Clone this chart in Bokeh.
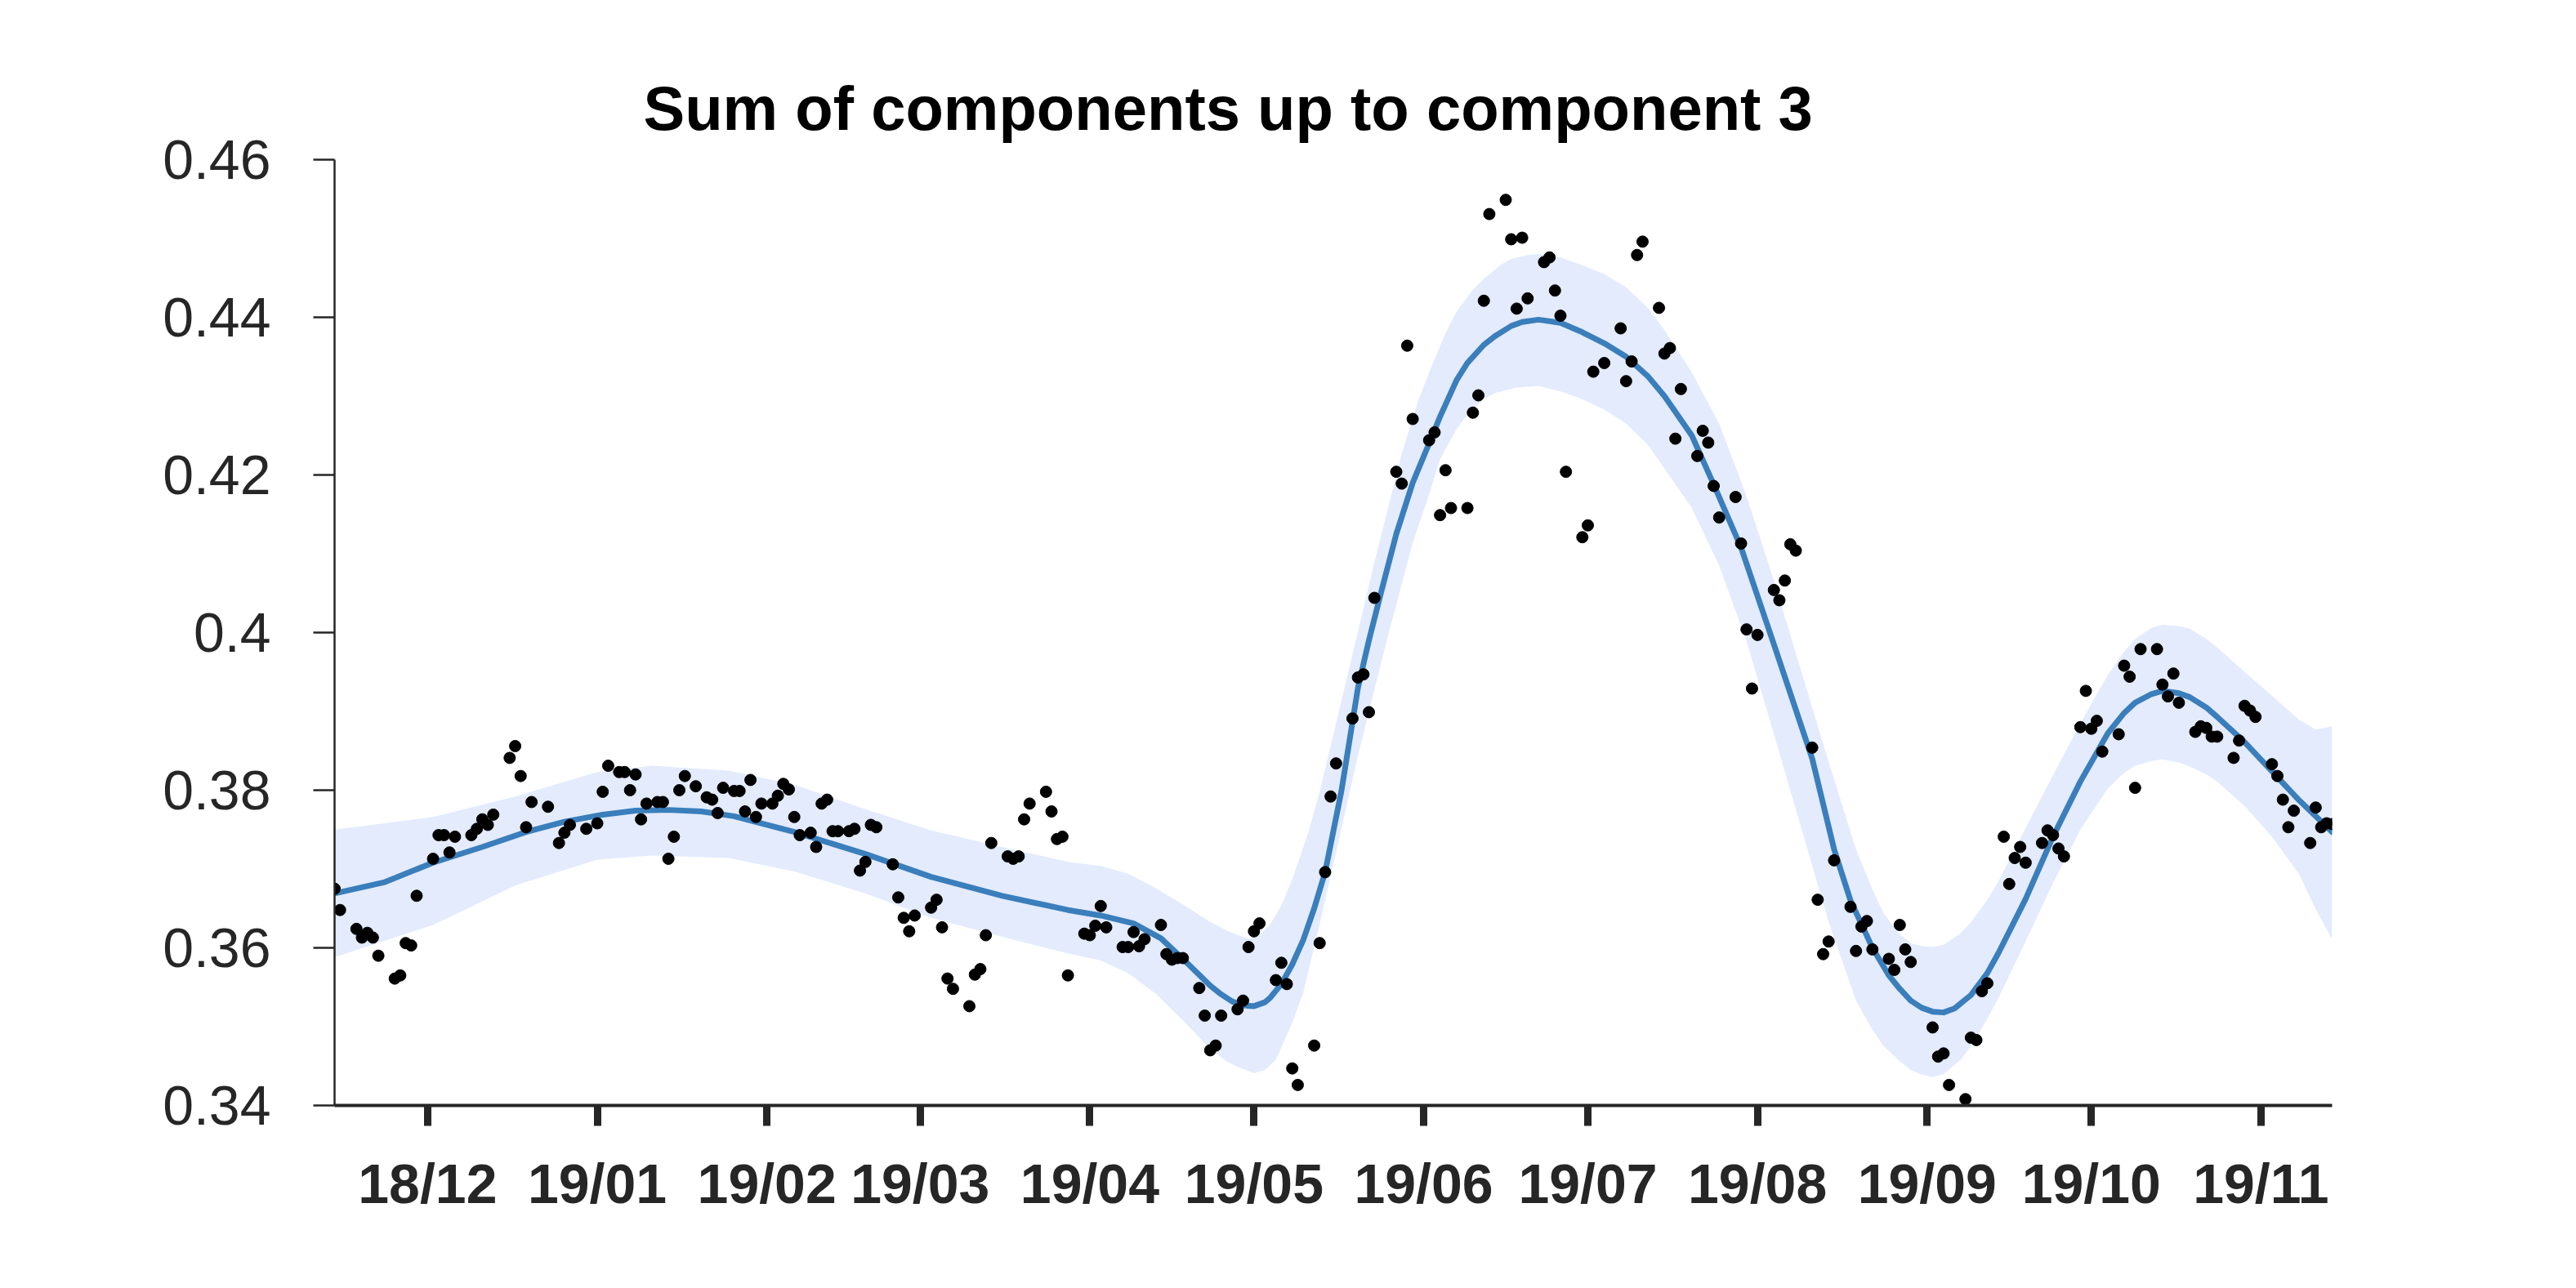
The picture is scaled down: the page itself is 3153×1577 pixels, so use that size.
import pandas as pd
from bokeh.plotting import figure
from bokeh.models import Range1d, FixedTicker
from bokeh.embed import file_html
from bokeh.resources import INLINE

title_text = "Sum of components up to component 3"

# observed points
obs_dates = [
    "2018-11-14", "2018-11-15", "2018-11-18", "2018-11-19", "2018-11-20", "2018-11-21", "2018-11-22",
    "2018-11-25", "2018-11-26", "2018-11-27", "2018-11-28", "2018-11-29",
    "2018-12-02", "2018-12-03", "2018-12-04", "2018-12-05", "2018-12-06",
    "2018-12-09", "2018-12-10", "2018-12-11", "2018-12-12", "2018-12-13",
    "2018-12-16", "2018-12-17", "2018-12-18", "2018-12-19", "2018-12-20",
    "2018-12-23", "2018-12-25", "2018-12-26", "2018-12-27", "2018-12-30",
    "2019-01-01", "2019-01-02", "2019-01-03", "2019-01-05", "2019-01-06", "2019-01-07", "2019-01-08",
    "2019-01-09", "2019-01-10", "2019-01-12", "2019-01-13", "2019-01-14", "2019-01-15", "2019-01-16",
    "2019-01-17", "2019-01-19", "2019-01-21", "2019-01-22", "2019-01-23", "2019-01-24", "2019-01-26",
    "2019-01-27", "2019-01-28", "2019-01-29", "2019-01-30", "2019-01-31",
    "2019-02-02", "2019-02-03", "2019-02-04", "2019-02-05", "2019-02-06", "2019-02-07",
    "2019-02-09", "2019-02-10", "2019-02-11", "2019-02-12", "2019-02-13", "2019-02-14",
    "2019-02-16", "2019-02-17", "2019-02-18", "2019-02-19", "2019-02-20", "2019-02-21",
    "2019-02-24", "2019-02-25", "2019-02-26", "2019-02-27", "2019-02-28",
    "2019-03-03", "2019-03-04", "2019-03-05", "2019-03-06", "2019-03-07",
    "2019-03-10", "2019-03-11", "2019-03-12", "2019-03-13", "2019-03-14",
    "2019-03-17", "2019-03-18", "2019-03-19", "2019-03-20", "2019-03-21",
    "2019-03-24", "2019-03-25", "2019-03-26", "2019-03-27", "2019-03-28",
    "2019-03-31", "2019-04-01", "2019-04-02", "2019-04-03", "2019-04-04",
    "2019-04-07", "2019-04-08", "2019-04-09", "2019-04-10", "2019-04-11",
    "2019-04-14", "2019-04-15", "2019-04-16", "2019-04-17", "2019-04-18",
    "2019-04-21", "2019-04-22", "2019-04-23", "2019-04-24", "2019-04-25",
    "2019-04-28", "2019-04-29", "2019-04-30", "2019-05-01", "2019-05-02",
    "2019-05-05", "2019-05-06", "2019-05-07", "2019-05-08", "2019-05-09",
    "2019-05-12", "2019-05-13", "2019-05-14", "2019-05-15", "2019-05-16",
    "2019-05-19", "2019-05-20", "2019-05-21", "2019-05-22", "2019-05-23",
    "2019-05-27", "2019-05-28", "2019-05-29", "2019-05-30",
    "2019-06-02", "2019-06-03", "2019-06-04", "2019-06-05", "2019-06-06",
    "2019-06-09", "2019-06-10", "2019-06-11", "2019-06-12", "2019-06-13",
    "2019-06-16", "2019-06-17", "2019-06-18", "2019-06-19", "2019-06-20",
    "2019-06-23", "2019-06-24", "2019-06-25", "2019-06-26", "2019-06-27",
    "2019-06-30", "2019-07-01", "2019-07-02", "2019-07-04",
    "2019-07-07", "2019-07-08", "2019-07-09", "2019-07-10", "2019-07-11",
    "2019-07-14", "2019-07-15", "2019-07-16", "2019-07-17", "2019-07-18",
    "2019-07-21", "2019-07-22", "2019-07-23", "2019-07-24", "2019-07-25",
    "2019-07-28", "2019-07-29", "2019-07-30", "2019-07-31", "2019-08-01",
    "2019-08-04", "2019-08-05", "2019-08-06", "2019-08-07", "2019-08-08",
    "2019-08-11", "2019-08-12", "2019-08-13", "2019-08-14", "2019-08-15",
    "2019-08-18", "2019-08-19", "2019-08-20", "2019-08-21", "2019-08-22",
    "2019-08-25", "2019-08-26", "2019-08-27", "2019-08-28", "2019-08-29",
    "2019-09-02", "2019-09-03", "2019-09-04", "2019-09-05",
    "2019-09-08", "2019-09-09", "2019-09-10", "2019-09-11", "2019-09-12",
    "2019-09-15", "2019-09-16", "2019-09-17", "2019-09-18", "2019-09-19",
    "2019-09-22", "2019-09-23", "2019-09-24", "2019-09-25", "2019-09-26",
    "2019-09-29", "2019-09-30", "2019-10-01", "2019-10-02", "2019-10-03",
    "2019-10-06", "2019-10-07", "2019-10-08", "2019-10-09", "2019-10-10",
    "2019-10-13", "2019-10-14", "2019-10-15", "2019-10-16", "2019-10-17",
    "2019-10-20", "2019-10-21", "2019-10-22", "2019-10-23", "2019-10-24",
    "2019-10-27", "2019-10-28", "2019-10-29", "2019-10-30", "2019-10-31",
    "2019-11-03", "2019-11-04", "2019-11-05", "2019-11-06", "2019-11-07",
    "2019-11-10", "2019-11-11", "2019-11-12", "2019-11-13", "2019-11-14",
]
obs_values = [
    0.3675, 0.3648, 0.3624, 0.3613, 0.3619, 0.3613, 0.3590,
    0.3561, 0.3565, 0.3606, 0.3603, 0.3666,
    0.3713, 0.3743, 0.3743, 0.3721, 0.3741,
    0.3743, 0.3751, 0.3763, 0.3756, 0.3769,
    0.3841, 0.3856, 0.3818, 0.3753, 0.3785,
    0.3779, 0.3733, 0.3746, 0.3756, 0.3751,
    0.3758, 0.3798, 0.3831, 0.3823, 0.3823, 0.3800, 0.3820,
    0.3763, 0.3783, 0.3785, 0.3785, 0.3713, 0.3741, 0.3800,
    0.3818, 0.3805, 0.3791, 0.3788, 0.3771, 0.3803, 0.3799,
    0.3799, 0.3773, 0.3813, 0.3766, 0.3783,
    0.3783, 0.3793, 0.3808, 0.3801, 0.3766, 0.3743,
    0.3746, 0.3728, 0.3783, 0.3788, 0.3748, 0.3748,
    0.3748, 0.3751, 0.3698, 0.3709, 0.3756, 0.3753,
    0.3706, 0.3664, 0.3638, 0.3621, 0.3641,
    0.3651, 0.3661, 0.3626, 0.3561, 0.3548,
    0.3526, 0.3566, 0.3573, 0.3616, 0.3733,
    0.3716, 0.3713, 0.3716, 0.3763, 0.3783,
    0.3798, 0.3773, 0.3738, 0.3741, 0.3565,
    0.3618, 0.3616, 0.3628, 0.3653, 0.3626,
    0.3601, 0.3601, 0.3620, 0.3602, 0.3611,
    0.3629, 0.3592, 0.3585, 0.3587, 0.3587,
    0.3549, 0.3514, 0.3470, 0.3476, 0.3514,
    0.3522, 0.3533, 0.3601, 0.3621, 0.3631,
    0.3559, 0.3581, 0.3554, 0.3447, 0.3426,
    0.3476, 0.3606, 0.3696, 0.3792, 0.3834,
    0.3891, 0.3943, 0.3947, 0.3899, 0.4044,
    0.4204, 0.4189, 0.4364, 0.4271,
    0.4244, 0.4254, 0.4149, 0.4206, 0.4158,
    0.4158, 0.4279, 0.4301, 0.4421, 0.4531,
    0.4549, 0.4499, 0.4411, 0.4501, 0.4424,
    0.4470, 0.4476, 0.4434, 0.4402, 0.4204,
    0.4121, 0.4136, 0.4331, 0.4342,
    0.4386, 0.4319, 0.4344, 0.4479, 0.4496,
    0.4412, 0.4354, 0.4361, 0.4246, 0.4309,
    0.4224, 0.4256, 0.4241, 0.4186, 0.4146,
    0.4172, 0.4113, 0.4004, 0.3929, 0.3997,
    0.4054, 0.4041, 0.4066, 0.4112, 0.4104,
    0.3854, 0.3661, 0.3592, 0.3608, 0.3711,
    0.3652, 0.3596, 0.3627, 0.3634, 0.3598,
    0.3586, 0.3572, 0.3629, 0.3598, 0.3582,
    0.3499, 0.3462, 0.3466, 0.3426,
    0.3408, 0.3486, 0.3483, 0.3545, 0.3555,
    0.3741, 0.3681, 0.3714, 0.3728, 0.3708,
    0.3733, 0.3749, 0.3743, 0.3726, 0.3716,
    0.3880, 0.3926, 0.3878, 0.3888, 0.3849,
    0.3871, 0.3958, 0.3944, 0.3803, 0.3979,
    0.3979, 0.3934, 0.3919, 0.3948, 0.3911,
    0.3874, 0.3881, 0.3879, 0.3868, 0.3868,
    0.3841, 0.3863, 0.3907, 0.3901, 0.3893,
    0.3833, 0.3818, 0.3788, 0.3753, 0.3774,
    0.3733, 0.3778, 0.3753, 0.3758, 0.3757,
]

# fitted mean (sum of components up to component 3)
fit_dates = [
    "2018-11-14", "2018-11-23", "2018-12-02", "2018-12-11", "2018-12-19", "2018-12-26",
    "2019-01-02", "2019-01-08", "2019-01-14", "2019-01-20", "2019-01-26", "2019-02-06",
    "2019-02-19", "2019-03-03", "2019-03-16", "2019-03-28", "2019-04-03", "2019-04-09",
    "2019-04-14", "2019-04-18", "2019-04-23", "2019-04-25", "2019-04-27", "2019-04-29",
    "2019-05-01", "2019-05-03", "2019-05-04", "2019-05-06", "2019-05-08", "2019-05-10",
    "2019-05-12", "2019-05-14", "2019-05-17", "2019-05-20", "2019-05-22", "2019-05-24",
    "2019-05-27", "2019-05-30", "2019-06-02", "2019-06-04", "2019-06-07", "2019-06-09",
    "2019-06-12", "2019-06-14", "2019-06-17", "2019-06-19", "2019-06-22", "2019-06-26",
    "2019-06-30", "2019-07-04", "2019-07-08", "2019-07-12", "2019-07-15", "2019-07-20",
    "2019-07-24", "2019-07-29", "2019-08-04", "2019-08-11", "2019-08-15", "2019-08-18",
    "2019-08-22", "2019-08-25", "2019-08-27", "2019-08-29", "2019-08-31", "2019-09-02",
    "2019-09-04", "2019-09-06", "2019-09-09", "2019-09-12", "2019-09-14", "2019-09-19",
    "2019-09-24", "2019-09-29", "2019-10-04", "2019-10-07", "2019-10-09", "2019-10-12",
    "2019-10-14", "2019-10-17", "2019-10-19", "2019-10-22", "2019-10-24", "2019-10-29",
    "2019-11-03", "2019-11-08", "2019-11-14",
]
fit_mean = [
    0.3669, 0.3683, 0.3708, 0.3728, 0.3747, 0.3760,
    0.3769, 0.3774, 0.3775, 0.3773, 0.3767, 0.3747,
    0.3719, 0.3690, 0.3666, 0.3648, 0.3641, 0.3631,
    0.3612, 0.3586, 0.3552, 0.3541, 0.3532, 0.3527,
    0.3526, 0.3531, 0.3537, 0.3554, 0.3579, 0.3610,
    0.3650, 0.3696, 0.3800, 0.3930, 0.3990, 0.4045,
    0.4125, 0.4190, 0.4240, 0.4274, 0.4320, 0.4342,
    0.4365, 0.4376, 0.4389, 0.4394, 0.4397, 0.4393,
    0.4381, 0.4367, 0.4350, 0.4325, 0.4300, 0.4250,
    0.4188, 0.4108, 0.3985, 0.3840, 0.3725, 0.3660,
    0.3600, 0.3565, 0.3548, 0.3533, 0.3524, 0.3519,
    0.3518, 0.3523, 0.3540, 0.3568, 0.3593, 0.3662,
    0.3741, 0.3811, 0.3872, 0.3898, 0.3911, 0.3922,
    0.3926, 0.3923, 0.3918, 0.3905, 0.3893, 0.3861,
    0.3824, 0.3787, 0.3747,
]

# confidence band, upper edge
upper_dates = [
    "2018-11-14", "2018-12-02", "2018-12-17", "2019-01-01", "2019-01-11", "2019-01-25",
    "2019-02-06", "2019-02-19", "2019-03-03", "2019-03-16", "2019-03-28", "2019-04-03",
    "2019-04-08", "2019-04-13", "2019-04-18", "2019-04-23", "2019-04-26", "2019-04-28",
    "2019-04-30", "2019-05-02", "2019-05-04", "2019-05-06", "2019-05-08", "2019-05-11",
    "2019-05-13", "2019-05-16", "2019-05-18", "2019-05-23", "2019-05-28", "2019-05-31",
    "2019-06-02", "2019-06-05", "2019-06-07", "2019-06-10", "2019-06-12", "2019-06-15",
    "2019-06-17", "2019-06-20", "2019-06-22", "2019-06-26", "2019-06-30", "2019-07-04",
    "2019-07-08", "2019-07-12", "2019-07-15", "2019-07-20", "2019-07-25", "2019-07-30",
    "2019-08-04", "2019-08-09", "2019-08-14", "2019-08-19", "2019-08-22", "2019-08-24",
    "2019-08-27", "2019-08-29", "2019-08-31", "2019-09-02", "2019-09-04", "2019-09-07",
    "2019-09-09", "2019-09-12", "2019-09-14", "2019-09-19", "2019-09-24", "2019-09-29",
    "2019-10-04", "2019-10-07", "2019-10-09", "2019-10-12", "2019-10-14", "2019-10-17",
    "2019-10-19", "2019-10-22", "2019-10-24", "2019-10-29", "2019-11-03", "2019-11-08",
    "2019-11-11", "2019-11-14",
]
upper_values = [
    0.3750, 0.3766, 0.3792, 0.3823, 0.3831, 0.3825,
    0.3807, 0.3776, 0.3749, 0.3728, 0.3709, 0.3704,
    0.3694, 0.3676, 0.3655, 0.3633, 0.3622, 0.3616,
    0.3612, 0.3616, 0.3630, 0.3654, 0.3687, 0.3748,
    0.3798, 0.3885, 0.3943, 0.4089, 0.4227, 0.4294,
    0.4330, 0.4380, 0.4407, 0.4435, 0.4449, 0.4466,
    0.4474, 0.4479, 0.4480, 0.4476, 0.4466, 0.4455,
    0.4438, 0.4412, 0.4384, 0.4330, 0.4265, 0.4173,
    0.4066, 0.3951, 0.3836, 0.3725, 0.3674, 0.3644,
    0.3617, 0.3606, 0.3602, 0.3601, 0.3604, 0.3618,
    0.3632, 0.3661, 0.3684, 0.3752, 0.3819, 0.3885,
    0.3946, 0.3976, 0.3992, 0.4006, 0.4010, 0.4008,
    0.4005, 0.3992, 0.3981, 0.3950, 0.3920, 0.3889,
    0.3877, 0.3881,
]

# confidence band, lower edge
lower_dates = [
    "2018-11-14", "2018-12-02", "2018-12-17", "2019-01-01", "2019-01-11", "2019-01-25",
    "2019-02-06", "2019-02-19", "2019-03-03", "2019-03-16", "2019-03-28", "2019-04-03",
    "2019-04-08", "2019-04-13", "2019-04-18", "2019-04-23", "2019-04-26", "2019-04-28",
    "2019-05-01", "2019-05-03", "2019-05-05", "2019-05-08", "2019-05-10", "2019-05-13",
    "2019-05-15", "2019-05-20", "2019-05-25", "2019-05-30", "2019-06-02", "2019-06-04",
    "2019-06-07", "2019-06-09", "2019-06-12", "2019-06-14", "2019-06-18", "2019-06-22",
    "2019-06-26", "2019-06-30", "2019-07-04", "2019-07-08", "2019-07-12", "2019-07-15",
    "2019-07-20", "2019-07-25", "2019-07-30", "2019-08-04", "2019-08-09", "2019-08-14",
    "2019-08-19", "2019-08-22", "2019-08-24", "2019-08-27", "2019-08-29", "2019-08-31",
    "2019-09-02", "2019-09-04", "2019-09-07", "2019-09-09", "2019-09-12", "2019-09-14",
    "2019-09-19", "2019-09-24", "2019-09-29", "2019-10-04", "2019-10-07", "2019-10-09",
    "2019-10-12", "2019-10-14", "2019-10-17", "2019-10-19", "2019-10-22", "2019-10-24",
    "2019-10-29", "2019-11-03", "2019-11-08", "2019-11-11", "2019-11-14",
]
lower_values = [
    0.3588, 0.3629, 0.3679, 0.3712, 0.3717, 0.3714,
    0.3697, 0.3669, 0.3638, 0.3614, 0.3593, 0.3584,
    0.3568, 0.3542, 0.3508, 0.3472, 0.3456, 0.3449,
    0.3441, 0.3445, 0.3458, 0.3505, 0.3543, 0.3630,
    0.3691, 0.3844, 0.3983, 0.4114, 0.4175, 0.4220,
    0.4258, 0.4277, 0.4296, 0.4304, 0.4311, 0.4313,
    0.4306, 0.4296, 0.4283, 0.4265, 0.4238, 0.4208,
    0.4158, 0.4085, 0.3989, 0.3871, 0.3752, 0.3633,
    0.3533, 0.3496, 0.3476, 0.3456, 0.3445, 0.3439,
    0.3436, 0.3440, 0.3457, 0.3475, 0.3510, 0.3536,
    0.3608, 0.3682, 0.3750, 0.3802, 0.3822, 0.3831,
    0.3837, 0.3839, 0.3835, 0.3830, 0.3820, 0.3811,
    0.3780, 0.3741, 0.3693, 0.3649, 0.3611,
]

x_tick_dates = [
    "2018-12-01", "2019-01-01", "2019-02-01", "2019-03-01", "2019-04-01", "2019-05-01",
    "2019-06-01", "2019-07-01", "2019-08-01", "2019-09-01", "2019-10-01", "2019-11-01",
]
x_tick_labels = ["18/12", "19/01", "19/02", "19/03", "19/04", "19/05",
                 "19/06", "19/07", "19/08", "19/09", "19/10", "19/11"]
y_ticks = [0.34, 0.36, 0.38, 0.40, 0.42, 0.44, 0.46]
y_tick_labels = ["0.34", "0.36", "0.38", "0.4", "0.42", "0.44", "0.46"]

# ---------------------------------------------------------------------------
obs_dt = pd.to_datetime(obs_dates)
fit_dt = pd.to_datetime(fit_dates)
up_dt = pd.to_datetime(upper_dates)
lo_dt = pd.to_datetime(lower_dates)

band_x = list(up_dt) + list(lo_dt[::-1])
band_y = list(upper_values) + list(lower_values[::-1])

x_start = obs_dt.min()
x_end = obs_dt.max()

p = figure(
    width=3153, height=1577,
    x_axis_type="datetime",
    x_range=Range1d(x_start, x_end),
    y_range=Range1d(0.34, 0.46),
    output_backend="svg",
    toolbar_location=None,
    min_border_left=409, min_border_right=299,
    min_border_top=195, min_border_bottom=224,
)
p.outline_line_color = None
p.background_fill_color = "white"
p.border_fill_color = "white"
p.xgrid.visible = False
p.ygrid.visible = False

p.patch(band_x, band_y, fill_color="#e3ebfd", line_color=None)
p.line(fit_dt, fit_mean, line_color="#3a7ebb", line_width=7,
       line_join="round", line_cap="round")
p.scatter(obs_dt, obs_values, size=14, fill_color="black", line_color="black")

# title
p.title.text = title_text
p.title.text_font = "Liberation Sans"
p.title.text_font_style = "bold"
p.title.text_font_size = "76px"
p.title.text_color = "black"
p.title.align = "left"
p.title.offset = 378
p.title.standoff = 41

axis_col = "#262626"

# x axis
tick_ms = [float(t.value // 10**6) for t in pd.to_datetime(x_tick_dates)]
xa = p.xaxis[0]
xa.ticker = FixedTicker(ticks=tick_ms)
xa.major_label_overrides = {t: lab for t, lab in zip(tick_ms, x_tick_labels)}
xa.minor_tick_line_color = None
xa.axis_line_width = 4
xa.axis_line_color = axis_col
xa.major_tick_line_width = 9
xa.major_tick_line_color = axis_col
xa.major_tick_out = 25
xa.major_tick_in = 0
xa.major_label_text_font = "Liberation Sans"
xa.major_label_text_font_style = "bold"
xa.major_label_text_font_size = "68px"
xa.major_label_text_color = axis_col
xa.major_label_standoff = 32

# y axis
ya = p.yaxis[0]
ya.ticker = FixedTicker(ticks=y_ticks)
ya.major_label_overrides = {t: lab for t, lab in zip(y_ticks, y_tick_labels)}
ya.minor_tick_line_color = None
ya.axis_line_width = 2.5
ya.axis_line_color = axis_col
ya.major_tick_line_width = 2.5
ya.major_tick_line_color = axis_col
ya.major_tick_out = 26
ya.major_tick_in = 0
ya.major_label_text_font = "Liberation Sans"
ya.major_label_text_font_size = "68px"
ya.major_label_text_color = axis_col
ya.major_label_standoff = 52

open("out.html", "w").write(file_html(p, INLINE))
